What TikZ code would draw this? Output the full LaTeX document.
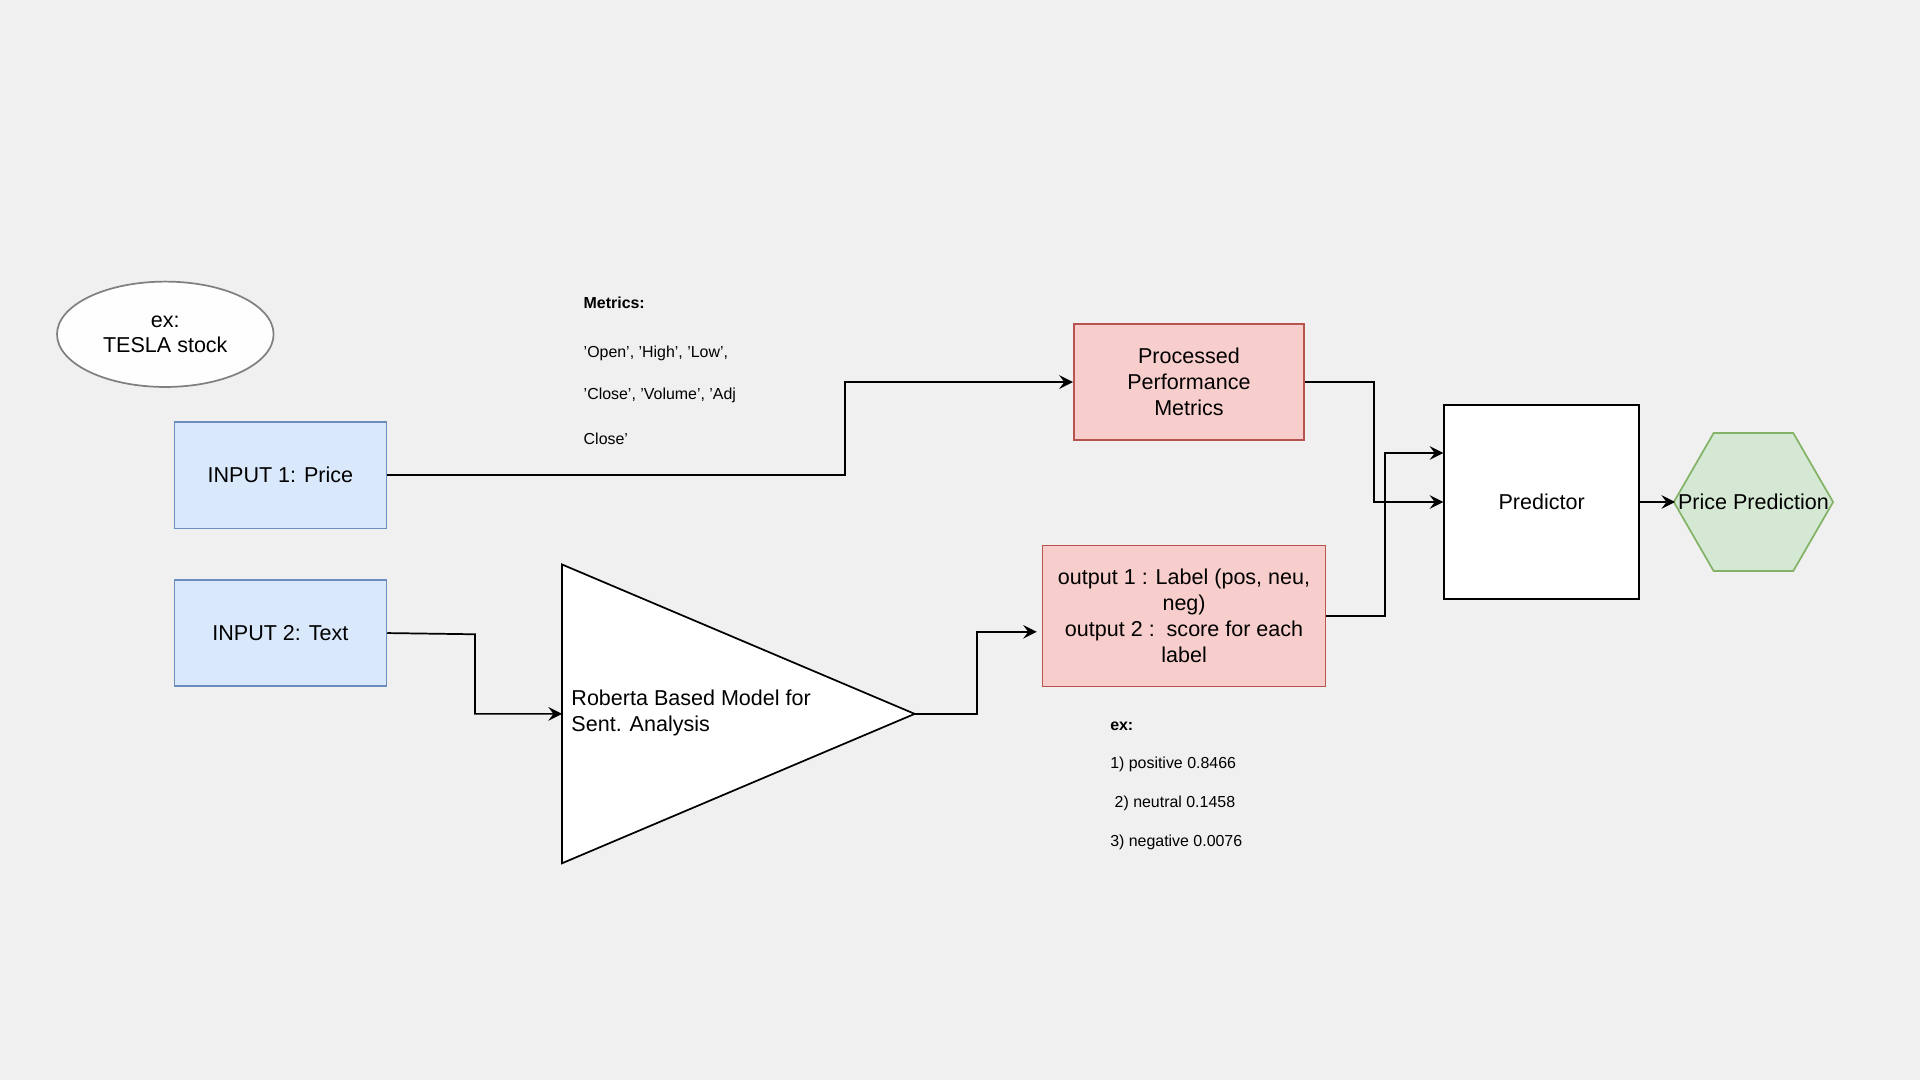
\documentclass[tikz,border=0pt]{standalone}
\usepackage{fontspec}
\setmainfont{Liberation Sans}
\usetikzlibrary{positioning,arrows,shapes.geometric}
\definecolor{bg}{HTML}{F0F0F0}
\definecolor{bluefill}{HTML}{DAE8FC}
\definecolor{bluedraw}{HTML}{6C8EBF}
\definecolor{redfill}{HTML}{F8CECC}
\definecolor{reddraw}{HTML}{B85450}
\definecolor{greenfill}{HTML}{D5E8D4}
\definecolor{greendraw}{HTML}{82B366}
\tikzset{
  inbox/.style={draw=bluedraw,fill=bluefill,minimum width=1.73cm,minimum height=0.87cm,font=\fontsize{5}{6}\selectfont},
  redbox/.style={draw=reddraw,fill=redfill,align=center,font=\fontsize{5}{6}\selectfont},
  note/.style={anchor=west,inner sep=0pt,font=\fontsize{3.7}{4.5}\selectfont},
  conn/.style={thin,-stealth}
}
\begin{document}
\begin{tikzpicture}[x=0.01cm,y=-0.01cm]
\useasboundingbox[fill=bg] (0,0) rectangle (1568,882);
% sources
\node (tesla)[ellipse,draw=gray,fill=white!95!bg,minimum width=1.3cm,minimum height=0.86cm,align=center,font=\fontsize{5}{6}\selectfont] at (135,273) {ex:\\TESLA stock};
\node (in1)[inbox] at (229,388) {INPUT 1: Price};
\node (in2)[inbox] at (229,517) {INPUT 2: Text};
% metrics note
\node (met)[note,font=\fontsize{3.7}{4.5}\selectfont\bfseries] at (476,247) {Metrics:};
\node (m1)[note] at (476,289) {'Open', 'High', 'Low',};
\node (m2)[note] at (476,323) {'Close', 'Volume', 'Adj};
\node (m3)[note] at (476,358) {Close'};
% model
\coordinate (tl) at (459,461);
\coordinate (bl) at (459,705);
\coordinate (tip) at (747,583);
\coordinate (tin) at (459,583);
\draw[fill=white] (tl)--(tip)--(bl)--cycle;
\node (rob)[anchor=west,align=left,inner sep=0pt,font=\fontsize{5}{6}\selectfont] at (466,582) {Roberta Based Model for\\ Sent. Analysis};
\node (proc)[redbox,minimum width=1.88cm,minimum height=0.95cm] at (971,312) {Processed\\Performance\\Metrics};
\node (out)[redbox,minimum width=2.31cm,minimum height=1.15cm] at (967,503) {output 1 : Label (pos, neu,\\neg)\\output 2 :\ \ score for each\\label};
\node (e0)[note,font=\fontsize{3.7}{4.5}\selectfont\bfseries] at (906,593) {ex:};
\node (e1)[note] at (906,624) {1) positive 0.8466};
\node (e2)[note] at (906,656) {\ 2) neutral 0.1458};
\node (e3)[note] at (906,688) {3) negative 0.0076};
\node (pred)[draw,fill=white,minimum width=1.59cm,minimum height=1.58cm,font=\fontsize{5}{6}\selectfont] at (1259,410) {Predictor};
\node (pp)[regular polygon,regular polygon sides=6,draw=greendraw,fill=greenfill,minimum width=1.3cm,inner sep=0pt,font=\fontsize{5}{6}\selectfont] at (1432,410) {};
\node at (pp) [font=\fontsize{5}{6}\selectfont] {Price Prediction};
% connectors
\draw[conn] (in1.east) -- (690,388) |- (proc.west);
\draw[conn] (in2.east) -- (388,518) |- (tin);
\draw[conn] (tip) -- (798,583) |- ([xshift=-0.04cm,yshift=-0.13cm]out.west);
\draw[conn] (proc.east) -- (1122,312) |- (pred.west);
\draw[conn] (out.east) -- (1131,503) |- ([yshift=0.4cm]pred.west);
\draw[conn] (pred.east) -- (1368,410);
\end{tikzpicture}
\end{document}
